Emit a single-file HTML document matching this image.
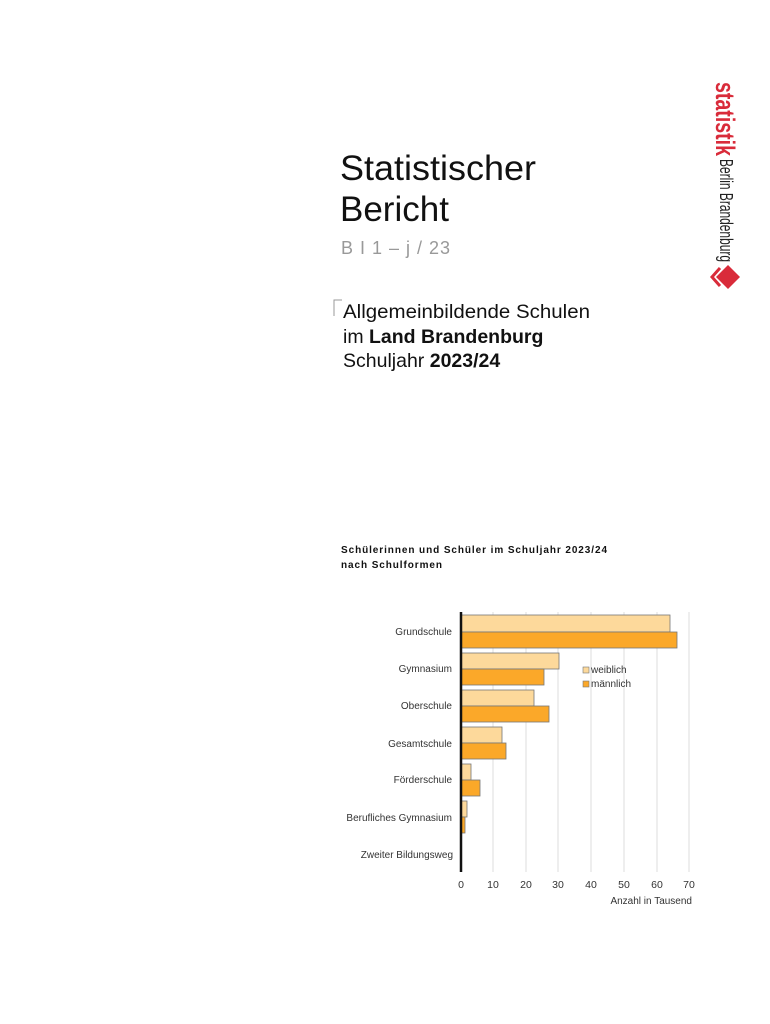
<!DOCTYPE html>
<html><head><meta charset="utf-8"><style>
html,body{margin:0;padding:0;background:#fff}
svg{display:block;font-family:"Liberation Sans",sans-serif}
</style></head><body>
<svg width="770" height="1024" viewBox="0 0 770 1024" xmlns="http://www.w3.org/2000/svg">
<g transform="translate(716,82) rotate(90)">
<text x="0" y="0" font-size="27" font-weight="bold" fill="#d92b3a" font-family="Liberation Sans Narrow, Liberation Sans, sans-serif" textLength="74" lengthAdjust="spacingAndGlyphs">statistik</text>
<text x="77" y="-4" font-size="18" fill="#222" textLength="103" lengthAdjust="spacingAndGlyphs">Berlin Brandenburg</text>
</g>
<g fill="#d92b3a">
<path d="M728 265 l12 12 l-12 12 l-12 -12 z"/>
</g>
<path d="M720 268 l-8 9 l8 9" fill="none" stroke="#d92b3a" stroke-width="3"/>
<text x="340" y="180" font-size="35" fill="#111" textLength="196" lengthAdjust="spacingAndGlyphs">Statistischer</text>
<text x="340" y="221" font-size="35" fill="#111">Bericht</text>
<text x="341" y="254" font-size="18" fill="#999" letter-spacing="1">B I 1 – j / 23</text>
<path d="M334 316 V300 H342" fill="none" stroke="#999" stroke-width="1"/>
<text x="343" y="318" font-size="19.5" fill="#111" textLength="247" lengthAdjust="spacingAndGlyphs">Allgemeinbildende Schulen</text>
<text x="343" y="343" font-size="19.5" fill="#111">im <tspan font-weight="bold">Land Brandenburg</tspan></text>
<text x="343" y="367" font-size="19.5" fill="#111">Schuljahr <tspan font-weight="bold">2023/24</tspan></text>
<text x="341" y="553" font-size="10" font-weight="bold" fill="#111" textLength="266" lengthAdjust="spacing">Schülerinnen und Schüler  im Schuljahr 2023/24</text>
<text x="341" y="568" font-size="10" font-weight="bold" fill="#111" textLength="101" lengthAdjust="spacing">nach Schulformen</text>
<g stroke="#ddd" stroke-width="1">
<line x1="493" y1="612" x2="493" y2="872"/><line x1="526" y1="612" x2="526" y2="872"/>
<line x1="558" y1="612" x2="558" y2="872"/><line x1="591" y1="612" x2="591" y2="872"/>
<line x1="624" y1="612" x2="624" y2="872"/><line x1="657" y1="612" x2="657" y2="872"/>
<line x1="689" y1="612" x2="689" y2="872"/>
</g>
<g stroke="#777" stroke-width="0.8">
<rect x="461" y="615" width="209" height="17" fill="#fdd99b"/>
<rect x="461" y="632" width="216" height="16" fill="#fba829"/>
<rect x="461" y="653" width="98" height="16" fill="#fdd99b"/>
<rect x="461" y="669" width="83" height="16" fill="#fba829"/>
<rect x="461" y="690" width="73" height="16" fill="#fdd99b"/>
<rect x="461" y="706" width="88" height="16" fill="#fba829"/>
<rect x="461" y="727" width="41" height="16" fill="#fdd99b"/>
<rect x="461" y="743" width="45" height="16" fill="#fba829"/>
<rect x="461" y="764" width="10" height="16" fill="#fdd99b"/>
<rect x="461" y="780" width="19" height="16" fill="#fba829"/>
<rect x="461" y="801" width="6" height="16" fill="#fdd99b"/>
<rect x="461" y="817" width="4" height="16" fill="#fba829"/>
</g>
<line x1="461" y1="612" x2="461" y2="872" stroke="#111" stroke-width="2.5"/>
<g font-size="10" fill="#333" text-anchor="end">
<text x="452" y="635">Grundschule</text>
<text x="452" y="672">Gymnasium</text>
<text x="452" y="709">Oberschule</text>
<text x="452" y="747">Gesamtschule</text>
<text x="452" y="783">Förderschule</text>
<text x="452" y="821">Berufliches Gymnasium</text>
<text x="453" y="858">Zweiter Bildungsweg</text>
</g>
<g font-size="10.5" fill="#333" text-anchor="middle">
<text x="461" y="888">0</text><text x="493" y="888">10</text><text x="526" y="888">20</text>
<text x="558" y="888">30</text><text x="591" y="888">40</text><text x="624" y="888">50</text>
<text x="657" y="888">60</text><text x="689" y="888">70</text>
</g>
<text x="692" y="904" font-size="10" fill="#333" text-anchor="end">Anzahl in Tausend</text>
<rect x="583" y="667" width="6" height="6" fill="#fdd99b" stroke="#777" stroke-width="0.6"/>
<text x="591" y="673" font-size="10" fill="#333">weiblich</text>
<rect x="583" y="681" width="6" height="6" fill="#fba829" stroke="#777" stroke-width="0.6"/>
<text x="591" y="687" font-size="10" fill="#333">männlich</text>
</svg>
</body></html>
